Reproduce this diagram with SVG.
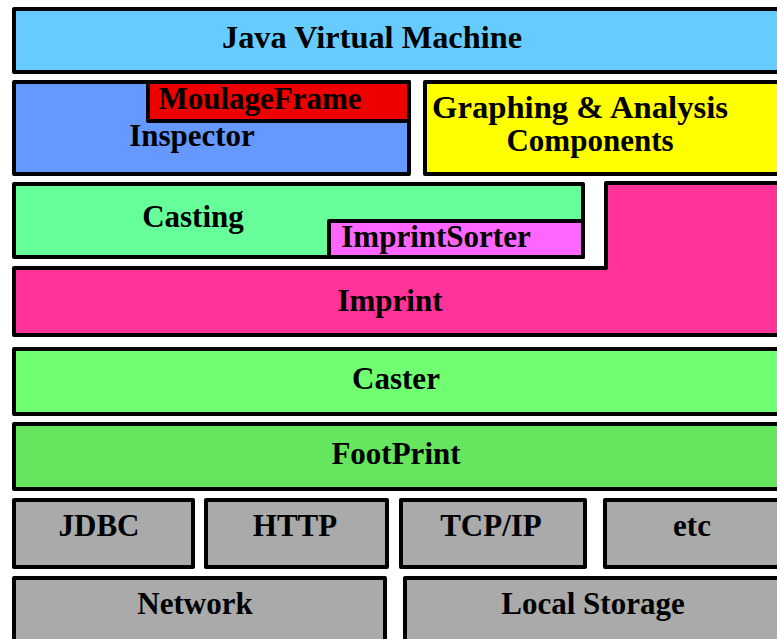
<svg xmlns="http://www.w3.org/2000/svg" width="777" height="639" viewBox="0 0 777 639">
<style>
.b{stroke:#000;stroke-width:4;stroke-linejoin:round}
.t{font-family:"Liberation Serif","Times New Roman",serif;font-weight:bold;font-size:31px;fill:#000;text-anchor:middle}
.g{fill:#aaaaaa}
</style>
<rect width="777" height="639" fill="#fff"/>
<g id="jvm"><rect class="b" x="14" y="9" width="780" height="63" fill="#66ccff"/><text class="t" x="372" y="48" textLength="300" lengthAdjust="spacingAndGlyphs">Java Virtual Machine</text></g>
<g id="inspector"><rect class="b" x="14" y="82" width="395" height="92" fill="#6699ff"/><text class="t" x="192" y="146">Inspector</text></g>
<g id="moulageframe"><rect class="b" x="148" y="82" width="261" height="39" fill="#ee0000"/><text class="t" x="260" y="109">MoulageFrame</text></g>
<g id="graphing"><rect class="b" x="425" y="82" width="360" height="92" fill="#ffff00"/><text class="t" x="580" y="118" textLength="296" lengthAdjust="spacingAndGlyphs">Graphing &amp; Analysis</text><text class="t" x="590" y="151">Components</text></g>
<g id="imprint"><path class="b" d="M14,268 H606 V183 H790 V335 H14 Z" fill="#ff3399"/><text class="t" x="390" y="311">Imprint</text></g>
<g id="casting"><rect class="b" x="14" y="184" width="569" height="73" fill="#66ff99"/><text class="t" x="193" y="227">Casting</text></g>
<g id="imprintsorter"><rect class="b" x="329" y="221" width="254" height="36" fill="#ff66ff"/><text class="t" x="436" y="247">ImprintSorter</text></g>
<g id="caster"><rect class="b" x="14" y="349" width="780" height="65" fill="#70ff70"/><text class="t" x="396" y="389">Caster</text></g>
<g id="footprint"><rect class="b" x="14" y="424" width="780" height="65" fill="#66e65e"/><text class="t" x="396" y="464">FootPrint</text></g>
<g id="jdbc"><rect class="b g" x="14" y="500" width="179" height="67"/><text class="t" x="99" y="536">JDBC</text></g>
<g id="http"><rect class="b g" x="206" y="500" width="181" height="67"/><text class="t" x="295" y="536">HTTP</text></g>
<g id="tcpip"><rect class="b g" x="401" y="500" width="184" height="67"/><text class="t" x="491" y="536">TCP/IP</text></g>
<g id="etc"><rect class="b g" x="605" y="500" width="190" height="67"/><text class="t" x="692" y="536">etc</text></g>
<g id="network"><rect class="b g" x="14" y="578" width="371" height="80"/><text class="t" x="195" y="614">Network</text></g>
<g id="localstorage"><rect class="b g" x="405" y="578" width="390" height="80"/><text class="t" x="593" y="614">Local Storage</text></g>
<g id="connectors"></g>
</svg>
